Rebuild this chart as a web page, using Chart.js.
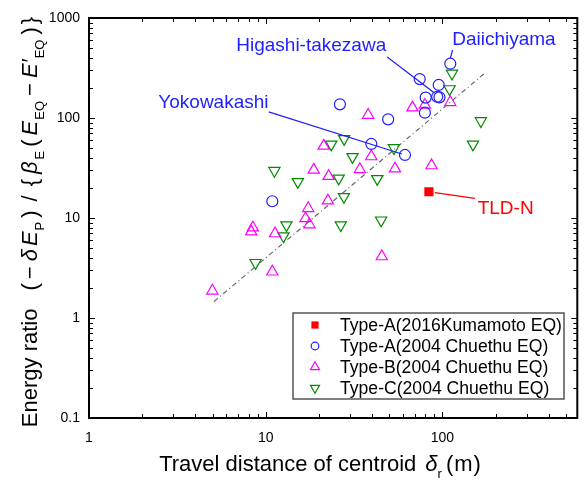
<!DOCTYPE html>
<html>
<head>
<meta charset="utf-8">
<script src="https://cdn.jsdelivr.net/npm/chart.js@4.4.0/dist/chart.umd.min.js"></script>
<style>
  html, body { margin: 0; padding: 0; background: #fff; }
  #wrap { width: 585px; height: 481px; }
</style>
</head>
<body>
<div id="wrap"><canvas id="energyChart" width="585" height="481"></canvas></div>
<script>
// Travel distance of centroid (m) against energy ratio, both on log axes

const kumamotoAX = [83.9];
const kumamotoAY = [18.3];

const chuetsuAX = [110.8, 74.4, 95.3, 80.4, 93.4, 96.2, 79.6, 26.3, 49.3, 39.6, 61.4, 10.9];
const chuetsuAY = [349, 245, 214, 160, 163, 161, 113, 137, 97, 55, 42.7, 14.7];

const chuetsuBX = [110.8, 79.6, 67.7, 38.0, 21.3, 39.6, 18.7, 22.7, 34.1, 53.9, 86.8,
                   22.5, 17.4, 16.8, 17.7, 8.46, 8.28, 11.3, 10.9, 4.99, 45.4];
const chuetsuBY = [143.6, 135, 127, 107, 52.6, 41.2, 30.3, 26.2, 30.7, 31.2, 33.5,
                   14.9, 12.5, 9.9, 8.6, 8.0, 7.3, 7.0, 2.9, 1.87, 4.12];

const chuetsuCX = [113.3, 109.8, 165, 149, 53.2, 27.8, 23.5, 31.0, 11.2, 15.2, 25.9,
                   42.8, 27.7, 13.1, 12.6, 26.6, 45.0, 8.76];
const chuetsuCY = [279, 195, 93.4, 54.5, 50.2, 61.9, 54.5, 40.9, 29.7, 23.0, 24.9,
                   24.6, 16.3, 8.5, 6.6, 8.5, 9.5, 3.57];

// end points of the power-law trend line
const trendX = [5.1, 175];
const trendY = [1.46, 284];

const xTickValues = [1, 10, 100];
const yTickValues = [0.1, 1, 10, 100, 1000];

const seriesNames = [
    'Type-A(2016Kumamoto EQ)',
    'Type-A(2004 Chuethu EQ)',
    'Type-B(2004 Chuethu EQ)',
    'Type-C(2004 Chuethu EQ)',
];

const X_MIN = 1, X_MAX = 580;
const Y_MIN = 0.1, Y_MAX = 1000;

const RED = '#ff0000';
const BLUE = '#1e1eff';
const MAGENTA = '#ff00ff';
const GREEN = '#008a00';
const FONT = '"Liberation Sans", Arial, sans-serif';

function toPoints(xs, ys) {
    return xs.map((x, i) => ({ x: x, y: ys[i] }));
}

// site labels with leader lines, given in data units
const siteNotes = [
    { text: 'Higashi-takezawa', color: BLUE, at: [18.1, 525], from: [48.7, 407], to: [90.2, 178] },
    { text: 'Daiichiyama', color: BLUE, at: [223, 603], from: [114.2, 479], to: [110.8, 395] },
    { text: 'Yokowakashi', color: BLUE, at: [5.06, 143], from: [10.4, 115], to: [59.0, 43.7] },
    { text: 'TLD-N', color: RED, at: [228, 12.3], from: [90.6, 17.9], to: [152.9, 15.7] },
];

function drawMarker(ctx, style, x, y, r, color) {
    ctx.save();
    ctx.strokeStyle = color;
    ctx.fillStyle = color;
    ctx.lineWidth = 1.2;
    ctx.beginPath();
    if (style === 'rect') {
        ctx.fillRect(x - r, y - r, 2 * r, 2 * r);
    } else if (style === 'circle') {
        ctx.arc(x, y, r, 0, Math.PI * 2);
        ctx.stroke();
    } else {
        const dir = style === 'up' ? 1 : -1;
        const w = r * 0.866;
        ctx.moveTo(x, y - dir * r);
        ctx.lineTo(x + w, y + dir * r * 0.5);
        ctx.lineTo(x - w, y + dir * r * 0.5);
        ctx.closePath();
        ctx.stroke();
    }
    ctx.restore();
}

// draws a run of text pieces centred on the origin, pieces may be italic or subscript
function drawRichText(ctx, parts, size) {
    const subSize = Math.round(size * 0.58);
    const fontOf = p => (p.italic ? 'italic ' : '') + (p.sub ? subSize : size) + 'px ' + FONT;
    let total = 0;
    parts.forEach(p => {
        ctx.font = fontOf(p);
        total += ctx.measureText(p.t).width + (p.gap || 0);
    });
    let x = -total / 2;
    parts.forEach(p => {
        ctx.font = fontOf(p);
        ctx.fillText(p.t, x, p.sub ? size * 0.32 : 0);
        x += ctx.measureText(p.t).width + (p.gap || 0);
    });
}

const xTitleParts = [
    { t: 'Travel distance of centroid', gap: 9 },
    { t: 'δ', italic: true },
    { t: 'r', sub: true, gap: 4 },
    { t: '(', gap: 1 },
    { t: 'm', gap: 1 },
    { t: ')' },
];

const yTitleParts = [
    { t: 'Energy ratio', gap: 18 },
    { t: '(', gap: 4 },
    { t: '−', gap: 5 },
    { t: 'δ', italic: true, gap: 3 },
    { t: 'E', italic: true, gap: 1 },
    { t: 'P', sub: true, gap: 4 },
    { t: ')', gap: 9 },
    { t: '/', gap: 9 },
    { t: '{', gap: 5 },
    { t: 'β', italic: true, gap: 2 },
    { t: 'E', sub: true, gap: 4 },
    { t: '(', gap: 4 },
    { t: 'E', italic: true, gap: 1 },
    { t: 'EQ', sub: true, gap: 5 },
    { t: '−', gap: 5 },
    { t: 'E′', italic: true, gap: 1 },
    { t: 'EQ', sub: true, gap: 5 },
    { t: ')', gap: 3 },
    { t: '}' },
];

const framePlugin = {
    id: 'framePlugin',
    afterDraw(chart) {
        const ctx = chart.ctx;
        const area = chart.chartArea;
        const xs = chart.scales.x;
        const ys = chart.scales.y;

        ctx.save();
        // tick marks on all four sides, pointing inward
        ctx.strokeStyle = '#000';
        ctx.lineWidth = 1;
        ctx.beginPath();
        for (let d = 1; d <= 100; d *= 10) {
            for (let k = 1; k <= 9; k++) {
                const v = k * d;
                if (v < X_MIN || v > X_MAX) continue;
                const px = Math.round(xs.getPixelForValue(v)) + 0.5;
                const len = k === 1 ? 6 : 4;
                ctx.moveTo(px, area.bottom);
                ctx.lineTo(px, area.bottom - len);
                ctx.moveTo(px, area.top);
                ctx.lineTo(px, area.top + len);
            }
        }
        for (let d = 0.1; d <= 1000; d *= 10) {
            for (let k = 1; k <= 9; k++) {
                const v = k * d;
                if (v < Y_MIN * 0.999 || v > Y_MAX * 1.001) continue;
                const py = Math.round(ys.getPixelForValue(v)) + 0.5;
                const len = k === 1 ? 6 : 4;
                ctx.moveTo(area.left, py);
                ctx.lineTo(area.left + len, py);
                ctx.moveTo(area.right, py);
                ctx.lineTo(area.right - len, py);
            }
        }
        ctx.stroke();

        // plot frame
        ctx.lineWidth = 2;
        ctx.strokeRect(area.left, area.top, area.right - area.left, area.bottom - area.top);

        // site labels
        ctx.lineWidth = 1.2;
        ctx.textAlign = 'center';
        ctx.textBaseline = 'middle';
        ctx.font = '19px ' + FONT;
        siteNotes.forEach(n => {
            ctx.strokeStyle = n.color;
            ctx.fillStyle = n.color;
            ctx.beginPath();
            ctx.moveTo(xs.getPixelForValue(n.from[0]), ys.getPixelForValue(n.from[1]));
            ctx.lineTo(xs.getPixelForValue(n.to[0]), ys.getPixelForValue(n.to[1]));
            ctx.stroke();
            ctx.fillText(n.text, xs.getPixelForValue(n.at[0]), ys.getPixelForValue(n.at[1]));
        });

        // legend box in the lower right
        const box = { left: 293, top: 313, width: 271, height: 86 };
        ctx.fillStyle = '#fff';
        ctx.fillRect(box.left, box.top, box.width, box.height);
        ctx.strokeStyle = '#555';
        ctx.lineWidth = 1.5;
        ctx.strokeRect(box.left, box.top, box.width, box.height);
        const styles = ['rect', 'circle', 'up', 'down'];
        const colors = [RED, BLUE, MAGENTA, GREEN];
        const sizes = [3.6, 3.8, 5.2, 5.2];
        ctx.textAlign = 'left';
        ctx.textBaseline = 'middle';
        ctx.font = '17.6px ' + FONT;
        seriesNames.forEach((name, i) => {
            const cy = box.top + 12 + i * 21;
            drawMarker(ctx, styles[i], box.left + 22, cy, sizes[i], colors[i]);
            ctx.fillStyle = '#000';
            ctx.fillText(name, box.left + 47, cy + 1);
        });

        // axis titles
        ctx.fillStyle = '#000';
        ctx.textAlign = 'left';
        ctx.textBaseline = 'alphabetic';
        ctx.save();
        ctx.translate(320, 471);
        drawRichText(ctx, xTitleParts, 22);
        ctx.restore();

        ctx.save();
        ctx.translate(37, 222);
        ctx.rotate(-Math.PI / 2);
        drawRichText(ctx, yTitleParts, 22);
        ctx.restore();

        ctx.restore();
    }
};

const ctx = document.getElementById('energyChart').getContext('2d');
new Chart(ctx, {
    type: 'scatter',
    data: {
        datasets: [
            {
                label: 'trend',
                type: 'line',
                data: toPoints(trendX, trendY),
                borderColor: '#666',
                borderWidth: 1.2,
                borderDash: [5, 3, 1, 3],
                pointRadius: 0,
                fill: false,
            },
            {
                label: seriesNames[1],
                data: toPoints(chuetsuAX, chuetsuAY),
                pointStyle: 'circle',
                pointRadius: 5.5,
                borderColor: BLUE,
                backgroundColor: 'rgba(0,0,0,0)',
                borderWidth: 1.2,
            },
            {
                label: seriesNames[2],
                data: toPoints(chuetsuBX, chuetsuBY),
                pointStyle: 'triangle',
                pointRadius: 6.5,
                borderColor: MAGENTA,
                backgroundColor: 'rgba(0,0,0,0)',
                borderWidth: 1.2,
            },
            {
                label: seriesNames[3],
                data: toPoints(chuetsuCX, chuetsuCY),
                pointStyle: 'triangle',
                rotation: 180,
                pointRadius: 6.5,
                borderColor: GREEN,
                backgroundColor: 'rgba(0,0,0,0)',
                borderWidth: 1.2,
            },
            {
                label: seriesNames[0],
                data: toPoints(kumamotoAX, kumamotoAY),
                pointStyle: 'rect',
                pointRadius: 6.5,
                borderColor: RED,
                backgroundColor: RED,
                borderWidth: 0,
            },
        ],
    },
    options: {
        responsive: false,
        animation: false,
        layout: { padding: { top: 18, right: 1, left: 0, bottom: 0 } },
        plugins: {
            legend: { display: false },
            tooltip: { enabled: false },
        },
        scales: {
            x: {
                type: 'logarithmic',
                min: X_MIN,
                max: X_MAX,
                grid: { display: false, drawTicks: false },
                border: { display: false },
                afterBuildTicks: scale => { scale.ticks = xTickValues.map(v => ({ value: v })); },
                afterFit: scale => { scale.height = 63; },
                ticks: {
                    autoSkip: false,
                    maxRotation: 0,
                    padding: 12,
                    color: '#000',
                    font: { family: FONT, size: 14 },
                    callback: v => String(v),
                },
            },
            y: {
                type: 'logarithmic',
                min: Y_MIN,
                max: Y_MAX,
                grid: { display: false, drawTicks: false },
                border: { display: false },
                afterBuildTicks: scale => { scale.ticks = yTickValues.map(v => ({ value: v })); },
                afterFit: scale => { scale.width = 89; },
                ticks: {
                    autoSkip: false,
                    padding: 9,
                    color: '#000',
                    font: { family: FONT, size: 14 },
                    callback: v => String(v),
                },
            },
        },
    },
    plugins: [framePlugin],
});
</script>
</body>
</html>
